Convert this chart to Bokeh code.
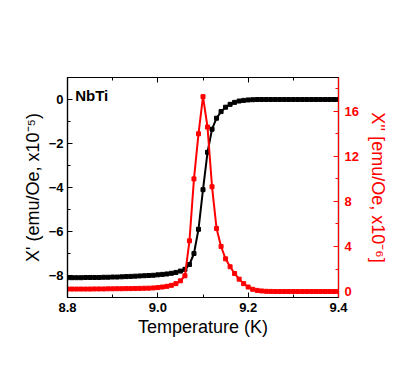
from bokeh.plotting import figure
from bokeh.models import LinearAxis, Range1d, FixedTicker, PrintfTickFormatter, ColumnDataSource, CustomJSTickFormatter
from bokeh.core.properties import value
from bokeh.embed import file_html
from bokeh.resources import INLINE

temperature = [8.80, 8.81, 8.82, 8.83, 8.84, 8.85, 8.86, 8.87, 8.88, 8.89,
               8.90, 8.91, 8.92, 8.93, 8.94, 8.95, 8.96, 8.97, 8.98, 8.99,
               9.00, 9.01, 9.02, 9.03, 9.04, 9.05, 9.06, 9.07, 9.08, 9.09,
               9.10, 9.11, 9.12, 9.13, 9.14, 9.15, 9.16, 9.17, 9.18, 9.19,
               9.20, 9.21, 9.22, 9.23, 9.24, 9.25, 9.26, 9.27, 9.28, 9.29,
               9.30, 9.31, 9.32, 9.33, 9.34, 9.35, 9.36, 9.37, 9.38, 9.39, 9.40]

chi_real = [-8.10, -8.10, -8.10, -8.10, -8.09, -8.09, -8.09, -8.09, -8.08, -8.08,
            -8.07, -8.07, -8.06, -8.05, -8.04, -8.03, -8.02, -8.01, -8.00, -7.99,
            -7.97, -7.95, -7.93, -7.90, -7.86, -7.80, -7.72, -7.50, -7.00, -5.90,
            -4.10, -2.40, -1.35, -0.85, -0.55, -0.35, -0.22, -0.13, -0.07, -0.04,
            -0.02, -0.01, 0.00, 0.00, 0.00, 0.00, 0.00, 0.00, 0.00, 0.00,
            0.00, 0.00, 0.00, 0.00, 0.00, 0.00, 0.00, 0.00, 0.00, 0.00, 0.00]

chi_imag = [0.22, 0.22, 0.22, 0.22, 0.22, 0.22, 0.23, 0.23, 0.23, 0.24,
            0.24, 0.25, 0.25, 0.26, 0.26, 0.27, 0.28, 0.29, 0.30, 0.32,
            0.35, 0.40, 0.46, 0.55, 0.70, 0.95, 1.40, 4.50, 10.0, 14.0,
            17.3, 14.6, 9.30, 5.60, 4.00, 2.90, 2.20, 1.60, 1.10, 0.70,
            0.40, 0.20, 0.10, 0.05, 0.02, 0.01, 0.00, 0.00, 0.00, 0.00,
            0.00, 0.00, 0.00, 0.00, 0.00, 0.00, 0.00, 0.00, 0.00, 0.00, 0.00]

x_ticks = [8.8, 9.0, 9.2, 9.4]
x_minor = [8.9, 9.1, 9.3]
left_ticks = [-8, -6, -4, -2, 0]
left_minor = [-9, -7, -5, -3, -1, 1]
right_ticks = [0, 4, 8, 12, 16]
right_minor = [2, 6, 10, 14, 18]

src = ColumnDataSource(dict(t=temperature, re=chi_real, im=chi_imag))

FONT = "Liberation Sans"
RED = "#ff0000"

p = figure(width=392, height=358, output_backend="svg", toolbar_location=None,
           x_range=Range1d(8.8, 9.4), y_range=Range1d(-9, 1),
           min_border_left=67, min_border_right=54, min_border_top=77, min_border_bottom=61,
           x_axis_location=None, y_axis_location=None)
p.extra_y_ranges = {"right": Range1d(-0.53, 19)}
p.xgrid.visible = False
p.ygrid.visible = False
p.outline_line_color = "black"
p.outline_line_width = 1.2
p.background_fill_color = "white"
p.border_fill_color = "white"

def style(ax, color, label_size="18px"):
    ax.axis_line_color = color
    ax.axis_line_width = 1.2
    ax.major_tick_line_color = color
    ax.minor_tick_line_color = color
    ax.major_tick_in = 5
    ax.major_tick_out = 0
    ax.minor_tick_in = 3
    ax.minor_tick_out = 0
    ax.major_label_text_color = color
    ax.major_label_text_font = FONT
    ax.major_label_text_font_style = "bold"
    ax.major_label_text_font_size = "13px"
    ax.axis_label_text_color = color
    ax.axis_label_text_font = FONT
    ax.axis_label_text_font_style = "normal"
    ax.axis_label_text_font_size = label_size

xb = LinearAxis(ticker=FixedTicker(ticks=x_ticks, minor_ticks=x_minor),
                formatter=PrintfTickFormatter(format="%.1f"), axis_label="Temperature (K)")
style(xb, "black")
xb.major_label_standoff = 5
xb.axis_label_standoff = 2
p.add_layout(xb, "below")

xt = LinearAxis(ticker=FixedTicker(ticks=x_ticks, minor_ticks=x_minor),
                formatter=CustomJSTickFormatter(code="return ''"))
style(xt, "black")
p.add_layout(xt, "above")

yl = LinearAxis(ticker=FixedTicker(ticks=left_ticks, minor_ticks=left_minor),
                axis_label="X' (emu/Oe, x10\u207b\u2075)")
style(yl, "black")
yl.major_label_standoff = 4
yl.axis_label_standoff = 3
p.add_layout(yl, "left")

yr = LinearAxis(y_range_name="right", ticker=FixedTicker(ticks=right_ticks, minor_ticks=right_minor),
                axis_label="X'' [emu/Oe, x10\u207b\u2076]")
style(yr, RED)
yr.major_label_standoff = 6
yr.axis_label_standoff = 6
p.add_layout(yr, "right")

p.line("t", "re", source=src, line_color="black", line_width=2)
p.scatter("t", "re", source=src, marker="square", size=4, color="black")
p.line("t", "im", source=src, line_color=RED, line_width=2, y_range_name="right")
p.scatter("t", "im", source=src, marker="square", size=4, color=RED, y_range_name="right")

p.text(x=[8.817], y=[0.2], text=["NbTi"], text_font=value(FONT), text_font_style="bold",
       text_font_size="15px", text_align="left", text_baseline="middle", text_color="black")

open("out.html", "w").write(file_html(p, INLINE))
